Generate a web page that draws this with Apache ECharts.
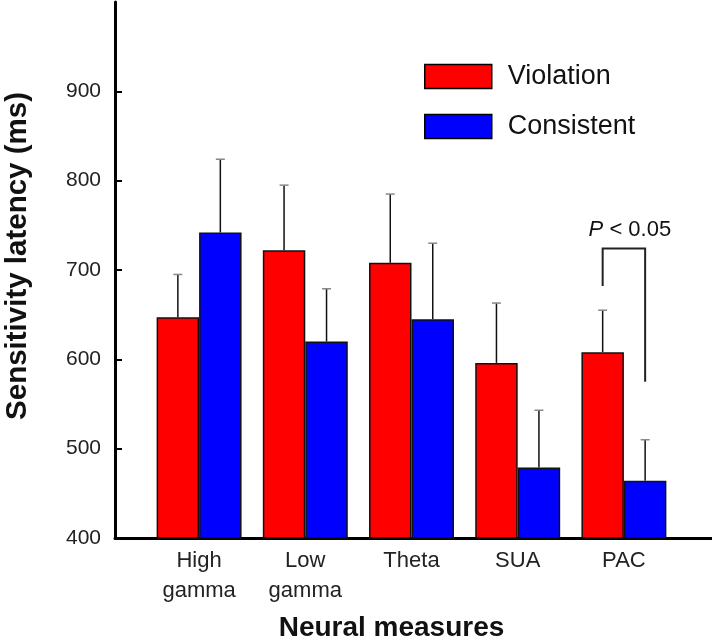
<!DOCTYPE html>
<html>
<head>
<meta charset="utf-8">
<script src="https://cdn.jsdelivr.net/npm/echarts@6/dist/echarts.min.js"></script>
<style>
  html, body { margin: 0; padding: 0; background: #fff; }
  #main { width: 712px; height: 638px; }
</style>
</head>
<body>
<div id="main"></div>
<script>
// data
var categories = ['High\ngamma', 'Low\ngamma', 'Theta', 'SUA', 'PAC'];
var violation = [647, 722, 708, 596, 608];
var violationErr = [695, 795, 785, 663, 655];
var consistent = [742, 620, 645, 479, 464];
var consistentErr = [824, 679, 730, 543, 510];
var yTicks = [400, 500, 600, 700, 800, 900];
// significance bracket on PAC: [category, left leg bottom, top, right leg bottom]
var bracket = [[4, 682, 724, 575]];

var chart = echarts.init(document.getElementById('main'));

function errRender(side) {
  return function (params, api) {
    var band = api.size([1, 0])[0];
    var off = side * band * 0.2;
    var p0 = api.coord([api.value(0), api.value(1)]);
    var p1 = api.coord([api.value(0), api.value(2)]);
    var x = p0[0] + off;
    return {
      type: 'group',
      children: [
        { type: 'line', shape: { x1: x, y1: p0[1], x2: x, y2: p1[1] },
          style: { stroke: '#111', lineWidth: 1.5 } },
        { type: 'line', shape: { x1: x - 4.5, y1: p1[1], x2: x + 4.5, y2: p1[1] },
          style: { stroke: '#888', lineWidth: 1.5 } }
      ]
    };
  };
}

var option = {
  animation: false,
  textStyle: { fontFamily: 'Liberation Sans, Arial, sans-serif' },
  legend: {
    orient: 'vertical',
    left: 424, top: 63,
    padding: 0,
    itemWidth: 67, itemHeight: 24, itemGap: 23,
    icon: 'rect',
    itemStyle: { borderColor: '#000', borderWidth: 1.5 },
    textStyle: { fontSize: 27, color: '#111', lineHeight: 24, padding: [0, 0, 0, 11] },
    data: ['Violation', 'Consistent']
  },
  grid: [
    { left: 146, right: 35, top: 2, bottom: 100, outerBoundsMode: 'none' },
    { left: 115, right: 0, top: 2, bottom: 100, outerBoundsMode: 'none' }
  ],
  xAxis: [
    {
      type: 'category', gridIndex: 0, data: categories,
      axisLine: { show: false }, axisTick: { show: false },
      axisLabel: { fontSize: 22, color: '#222', lineHeight: 30, margin: 8 },
      name: 'Neural measures', nameLocation: 'middle', nameGap: 76,
      nameTextStyle: { fontSize: 28, fontWeight: 'bold', color: '#111', padding: [0, 40, 0, 0] }
    },
    {
      type: 'value', gridIndex: 1, min: 0, max: 1,
      axisLine: { show: true, lineStyle: { color: '#000', width: 3 } },
      axisTick: { show: false }, axisLabel: { show: false }, splitLine: { show: false }
    }
  ],
  yAxis: [
    { type: 'value', gridIndex: 0, min: 400, max: 1000, interval: 100, show: false },
    {
      type: 'value', gridIndex: 1, min: 400, max: 1000, interval: 100,
      axisLine: { show: true, lineStyle: { color: '#000', width: 3 } },
      axisTick: { show: true, inside: true, length: 7, customValues: yTicks,
        lineStyle: { color: '#000', width: 2 } },
      axisLabel: { fontSize: 21, color: '#222', margin: 14, customValues: yTicks },
      splitLine: { show: false },
      name: 'Sensitivity latency (ms)', nameLocation: 'middle', nameGap: 82,
      nameTextStyle: { fontSize: 29.5, fontWeight: 'bold', color: '#111', padding: [0, 0, 0, 28] }
    }
  ],
  series: [
    {
      name: 'Violation', type: 'bar', data: violation,
      barGap: '0%', barCategoryGap: '20%',
      itemStyle: { color: '#ff0000', borderColor: '#111', borderWidth: 1.5 }
    },
    {
      name: 'Consistent', type: 'bar', data: consistent,
      barGap: '0%', barCategoryGap: '20%',
      itemStyle: { color: '#0000ff', borderColor: '#111', borderWidth: 1.5 }
    },
    {
      type: 'custom', renderItem: errRender(-1), z: 1,
      data: violation.map(function (v, i) { return [i, v, violationErr[i]]; }),
      encode: { x: 0, y: [1, 2] }
    },
    {
      type: 'custom', renderItem: errRender(1), z: 1,
      data: consistent.map(function (v, i) { return [i, v, consistentErr[i]]; }),
      encode: { x: 0, y: [1, 2] }
    },
    {
      type: 'custom', z: 3,
      data: bracket,
      encode: { x: 0, y: [1, 2, 3] },
      renderItem: function (params, api) {
        var band = api.size([1, 0])[0];
        var c = api.value(0);
        var a = api.coord([c, api.value(1)]);
        var t = api.coord([c, api.value(2)]);
        var b = api.coord([c, api.value(3)]);
        var lx = a[0] - band * 0.2, rx = a[0] + band * 0.2;
        return {
          type: 'group',
          children: [
            { type: 'polyline',
              shape: { points: [[lx, a[1]], [lx, t[1]], [rx, t[1]], [rx, b[1]]] },
              style: { stroke: '#222', lineWidth: 2, fill: null } },
            { type: 'text',
              style: { x: a[0] + 6, y: t[1] - 19, text: '{i|P} < 0.05',
                align: 'center', verticalAlign: 'middle',
                fontSize: 22, fill: '#111', fontFamily: 'Liberation Sans, Arial, sans-serif',
                rich: { i: { fontStyle: 'italic', fontSize: 22, fill: '#111',
                  fontFamily: 'Liberation Sans, Arial, sans-serif' } } } }
          ]
        };
      }
    }
  ]
};

chart.setOption(option);
window.addEventListener('resize', function () { chart.resize(); });
</script>
</body>
</html>
